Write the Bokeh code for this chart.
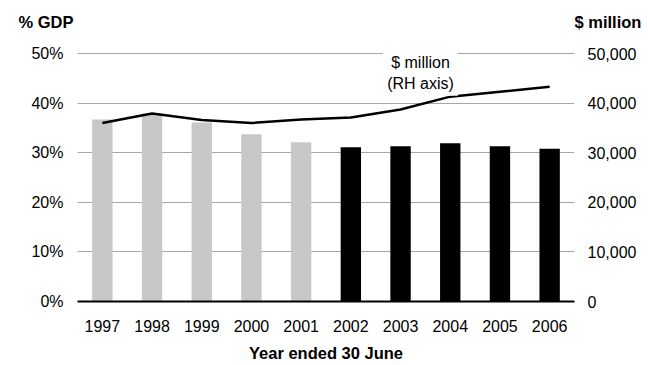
from bokeh.plotting import figure
from bokeh.models import (ColumnDataSource, FactorRange, Range1d, LinearAxis, FixedTicker,
                          CustomJSTickFormatter, NumeralTickFormatter, Label)
from bokeh.embed import file_html
from bokeh.resources import INLINE

# ---- data ----
years = ["1997", "1998", "1999", "2000", "2001", "2002", "2003", "2004", "2005", "2006"]
pct_gdp = [36.7, 37.9, 36.1, 33.7, 32.1, 31.1, 31.3, 31.9, 31.3, 30.8]
dollars_million = [36000, 37900, 36600, 36000, 36700, 37100, 38700, 41300, 42300, 43300]
left_ticks = [0, 10, 20, 30, 40, 50]
right_ticks = [0, 10000, 20000, 30000, 40000, 50000]
left_title = "% GDP"
right_title = "$ million"
note_text = "$ million\n(RH axis)"
x_title = "Year ended 30 June"

# ---- layout constants ----
FONT = "Liberation Sans"
GREY = "#c8c8c8"
BLACK = "#000000"
Y_TOP = 59.68      # frame reaches up to the top of the canvas; nothing is drawn above 50%
TITLE_Y = 56.45    # height at which the two axis titles sit (left-axis units)

colors = [GREY if int(y) < 2002 else BLACK for y in years]
src = ColumnDataSource(dict(year=years, pct=pct_gdp, mil=dollars_million, color=colors))

p = figure(width=648, height=365, x_range=FactorRange(*years, range_padding=0),
           y_range=Range1d(0, Y_TOP), output_backend="svg", toolbar_location=None,
           min_border_left=77, min_border_right=74, min_border_top=5, min_border_bottom=64)
p.extra_y_ranges = {"rh": Range1d(0, Y_TOP * 1000)}
p.outline_line_color = None
p.background_fill_color = "white"
p.border_fill_color = "white"

p.vbar(x="year", top="pct", width=0.41, fill_color="color", line_color=None, source=src)
p.line(x="year", y="mil", y_range_name="rh", line_color=BLACK, line_width=2.5, source=src)

# grid
p.xgrid.grid_line_color = None
p.ygrid.grid_line_color = "#a6a6a6"
p.ygrid.grid_line_width = 1
p.ygrid.ticker = FixedTicker(ticks=left_ticks)


def style_axis(ax, standoff, bold=False):
    ax.axis_line_color = None
    ax.major_tick_line_color = None
    ax.minor_tick_line_color = None
    ax.major_tick_out = 0
    ax.major_tick_in = 0
    ax.minor_tick_out = 0
    ax.minor_tick_in = 0
    ax.major_label_standoff = standoff
    ax.major_label_text_font = FONT
    ax.major_label_text_font_size = "16px"
    ax.major_label_text_color = "#000000"
    if bold:
        ax.major_label_text_font_style = "bold"
        ax.major_label_text_font_size = "16.5px"


# left axis (values)
yl = p.yaxis[0]
yl.ticker = FixedTicker(ticks=left_ticks)
yl.formatter = CustomJSTickFormatter(code="return tick + '%';")
style_axis(yl, 14)

# left axis title ("% GDP"), drawn as the single bold label of an outer axis
yl_t = LinearAxis(ticker=FixedTicker(ticks=[TITLE_Y]),
                  formatter=CustomJSTickFormatter(args=dict(t=left_title), code="return t;"))
style_axis(yl_t, -45, bold=True)
p.add_layout(yl_t, "left")

# right axis (values)
yr = LinearAxis(y_range_name="rh", ticker=FixedTicker(ticks=right_ticks),
                formatter=NumeralTickFormatter(format="0,0"))
style_axis(yr, 13)
p.add_layout(yr, "right")

# right axis title ("$ million")
yr_t = LinearAxis(y_range_name="rh", ticker=FixedTicker(ticks=[TITLE_Y * 1000]),
                  formatter=CustomJSTickFormatter(args=dict(t=right_title), code="return t;"))
style_axis(yr_t, -65, bold=True)
p.add_layout(yr_t, "right")

# x axis
xa = p.xaxis[0]
style_axis(xa, 18)
xa.axis_line_color = BLACK
xa.axis_line_width = 2
xa.axis_label = x_title
xa.axis_label_text_font = FONT
xa.axis_label_text_font_size = "16.5px"
xa.axis_label_text_font_style = "bold"
xa.axis_label_text_color = "#000000"
xa.axis_label_standoff = 9

# in-chart annotation
p.add_layout(Label(x=343, y=228.5, x_units="screen", y_units="screen",
                   text=note_text, text_font=FONT, text_font_size="16px",
                   text_align="center", text_baseline="middle", text_color="#000000",
                   background_fill_color="white", padding=4))

open("out.html", "w").write(file_html(p, INLINE))
